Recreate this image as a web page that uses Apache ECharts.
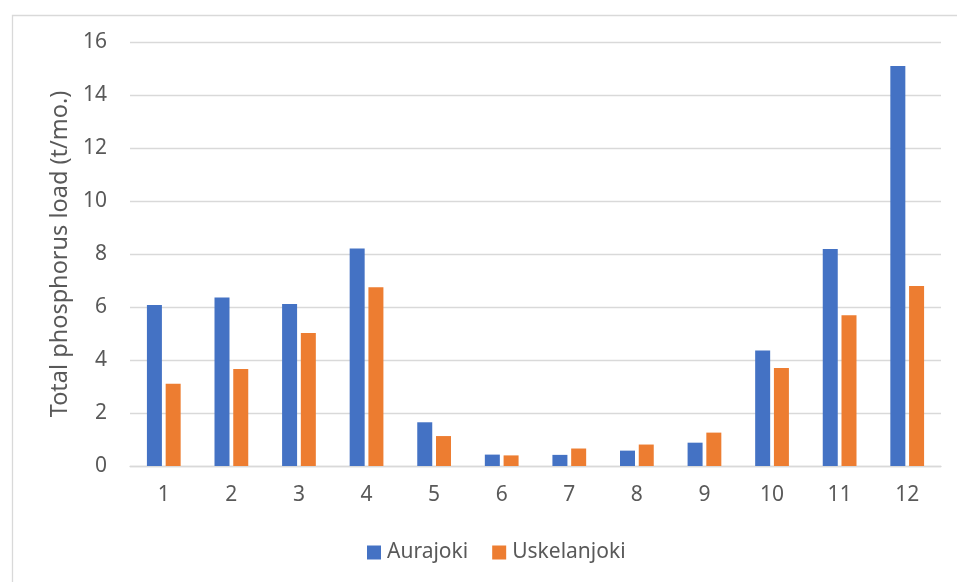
<!DOCTYPE html>
<html>
<head>
<meta charset="utf-8">
<script src="https://cdn.jsdelivr.net/npm/echarts@6/dist/echarts.min.js"></script>
<style>
  html, body { margin: 0; padding: 0; background: #fff; }
  #chart { width: 957px; height: 582px; }
</style>
</head>
<body>
<div id="chart"></div>
<script>
// Monthly total phosphorus load for two rivers (tonnes per month)
const months = ['1', '2', '3', '4', '5', '6', '7', '8', '9', '10', '11', '12'];
const aurajoki = [6.08, 6.36, 6.11, 8.21, 1.65, 0.43, 0.42, 0.58, 0.88, 4.36, 8.19, 15.09];
const uskelanjoki = [3.10, 3.66, 5.02, 6.75, 1.13, 0.40, 0.66, 0.81, 1.26, 3.70, 5.69, 6.79];
const yTicks = { min: 0, max: 16, interval: 2 };

const FONT = '"Noto Sans", "Open Sans", sans-serif';
const TEXT = '#595959';
const GRID_LINE = '#d9d9d9';

const chart = echarts.init(document.getElementById('chart'), null, { renderer: 'canvas' });
chart.setOption({
  backgroundColor: '#fff',
  animation: false,
  textStyle: { fontFamily: FONT },
  graphic: [{
    type: 'rect',
    left: 10, top: 13,
    shape: { width: 960, height: 600 },
    style: { fill: 'none', stroke: '#d9d9d9', lineWidth: 1.3 },
    silent: true
  }],
  grid: { left: 130, right: 16, top: 42, bottom: 116, containLabel: false },
  legend: {
    left: 362, top: 537,
    itemWidth: 14, itemHeight: 14, itemGap: 24,
    icon: 'rect',
    textStyle: { color: TEXT, fontSize: 21, fontFamily: FONT, padding: [0, 0, 0, 1] },
    data: ['Aurajoki', 'Uskelanjoki']
  },
  xAxis: {
    type: 'category',
    data: months,
    axisLine: { show: true, lineStyle: { color: GRID_LINE, width: 1.3 } },
    axisTick: { show: false },
    axisLabel: { color: TEXT, fontSize: 21, margin: 19, fontFamily: FONT }
  },
  yAxis: {
    type: 'value',
    min: yTicks.min, max: yTicks.max, interval: yTicks.interval,
    name: 'Total phosphorus load (t/mo.)',
    nameLocation: 'middle',
    nameGap: 58,
    nameTextStyle: { color: TEXT, fontSize: 23.5, fontFamily: FONT },
    axisLine: { show: false },
    axisTick: { show: false },
    axisLabel: { color: TEXT, fontSize: 21, margin: 23, fontFamily: FONT },
    splitLine: { lineStyle: { color: GRID_LINE, width: 1.3 } }
  },
  series: [
    {
      name: 'Aurajoki', type: 'bar', data: aurajoki,
      barWidth: 15, barGap: '25%',
      itemStyle: { color: '#4472C4' }
    },
    {
      name: 'Uskelanjoki', type: 'bar', data: uskelanjoki,
      barWidth: 15, barGap: '25%',
      itemStyle: { color: '#ED7D31' }
    }
  ]
});
</script>
</body>
</html>
